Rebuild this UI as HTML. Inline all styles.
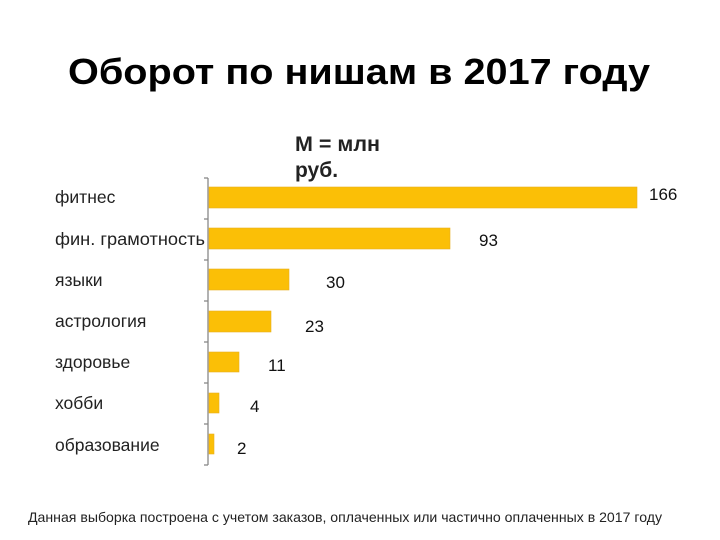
<!DOCTYPE html>
<html><head><meta charset="utf-8"><style>
html,body{margin:0;padding:0;background:#fff;}
svg{display:block;font-family:"Liberation Sans",Arial,sans-serif;}
</style></head><body>
<svg width="720" height="540" viewBox="0 0 720 540">
<rect width="720" height="540" fill="#fff"/>
<text x="68" y="84" font-size="36" font-weight="bold" textLength="582" lengthAdjust="spacingAndGlyphs" fill="#000">Оборот по нишам в 2017 году</text>
<text x="295" y="151" font-size="21" font-weight="bold" fill="#222" textLength="85" lengthAdjust="spacingAndGlyphs">М = млн</text>
<text x="295" y="177" font-size="21" font-weight="bold" fill="#222">руб.</text>
<g stroke="#888" stroke-width="1.3" fill="none">
<line x1="208" y1="178" x2="208" y2="465"/>
<line x1="204" y1="178" x2="208" y2="178"/><line x1="204" y1="219" x2="208" y2="219"/>
<line x1="204" y1="260" x2="208" y2="260"/><line x1="204" y1="301" x2="208" y2="301"/>
<line x1="204" y1="342" x2="208" y2="342"/><line x1="204" y1="383" x2="208" y2="383"/>
<line x1="204" y1="424" x2="208" y2="424"/><line x1="204" y1="465" x2="208" y2="465"/>
</g>
<g fill="#fbbf06" stroke="#e8b020" stroke-width="0.6">
<rect x="209" y="187" width="428" height="21"/>
<rect x="209" y="228" width="241" height="21"/>
<rect x="209" y="269" width="80" height="21"/>
<rect x="209" y="311" width="62" height="21"/>
<rect x="209" y="352" width="30" height="20"/>
<rect x="209" y="393" width="10" height="20"/>
<rect x="209" y="434" width="5" height="20"/>
</g>
<g font-size="17.5" fill="#222">
<text x="55" y="203">фитнес</text>
<text x="55" y="245" textLength="150" lengthAdjust="spacingAndGlyphs">фин. грамотность</text>
<text x="55" y="286">языки</text>
<text x="55" y="327">астрология</text>
<text x="55" y="368">здоровье</text>
<text x="55" y="409">хобби</text>
<text x="55" y="451">образование</text>
</g>
<g font-size="17" fill="#111">
<text x="649" y="200">166</text>
<text x="479" y="246">93</text>
<text x="326" y="288">30</text>
<text x="305" y="332">23</text>
<text x="268" y="371">11</text>
<text x="250" y="412">4</text>
<text x="237" y="454">2</text>
</g>
<text x="28" y="522" font-size="14" fill="#222" textLength="634" lengthAdjust="spacingAndGlyphs">Данная выборка построена с учетом заказов, оплаченных или частично оплаченных в 2017 году</text>
</svg>
</body></html>
